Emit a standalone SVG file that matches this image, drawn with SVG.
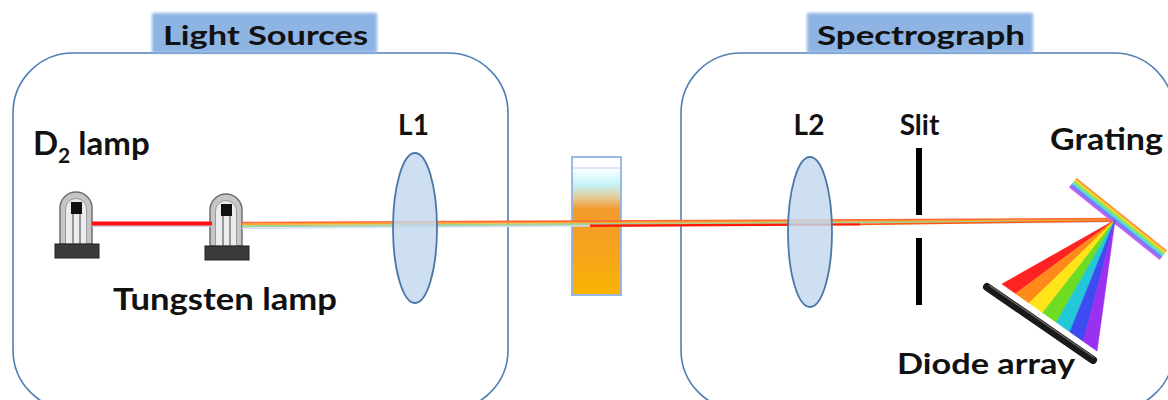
<svg xmlns="http://www.w3.org/2000/svg" xmlns:xlink="http://www.w3.org/1999/xlink" width="1168" height="400" viewBox="0 0 1168 400">
  <style>
    .frame { fill: none; stroke: #4f7fb3; stroke-width: 1.6; }
    .title-bg { fill: #8db4e3; filter: url(#soft); }
    .label { font-family: Lato, "Open Sans", "Liberation Sans", sans-serif; font-weight: bold; fill: #111; font-size: 27px; }
    .optic { font-size: 28px; }
    .lens { fill: #c3d8ee; fill-opacity: 0.82; stroke: #4a78a8; stroke-width: 1.8; }
    .slit { stroke: #000; stroke-width: 6; }
  </style>
  <defs>
    <filter id="soft" x="-10%" y="-30%" width="120%" height="160%">
      <feGaussianBlur stdDeviation="1.6"/>
    </filter>
    <linearGradient id="liquid" x1="0" y1="0" x2="0" y2="1">
      <stop offset="0" stop-color="#ffffff"/>
      <stop offset="0.08" stop-color="#ffffff"/>
      <stop offset="0.2" stop-color="#c4f4f8"/>
      <stop offset="0.3" stop-color="#e8c890"/>
      <stop offset="0.38" stop-color="#f39a2c"/>
      <stop offset="0.7" stop-color="#f6a41c"/>
      <stop offset="1" stop-color="#f9b300"/>
    </linearGradient>
    <linearGradient id="rainbowBand" x1="0" y1="0" x2="0" y2="1">
      <stop offset="0" stop-color="#ff6a2a"/>
      <stop offset="0.18" stop-color="#ffd52a"/>
      <stop offset="0.36" stop-color="#8ee65a"/>
      <stop offset="0.54" stop-color="#5ad8e8"/>
      <stop offset="0.72" stop-color="#6a7af5"/>
      <stop offset="1" stop-color="#e060f0"/>
    </linearGradient>
    <g id="lamp">
      <path d="M60,244 V208 A16,16 0 0 1 92,208 V244 Z" fill="#c6c6c6" stroke="#6f6f6f" stroke-width="1.5"/>
      <path d="M65.5,244 V209 A10.5,10.5 0 0 1 86.5,209 V244 Z" fill="#ececec" stroke="#9a9a9a" stroke-width="1"/>
      <line x1="73" y1="212" x2="73" y2="244" stroke="#7a7a7a" stroke-width="1.5"/>
      <line x1="80" y1="212" x2="80" y2="244" stroke="#7a7a7a" stroke-width="1.5"/>
      <rect x="71" y="202" width="11" height="12" fill="#111"/>
      <rect x="55" y="244" width="44" height="14" fill="#3b3b3b" stroke="#1f1f1f" stroke-width="1"/>
    </g>
  </defs>

  <rect width="1168" height="400" fill="#ffffff"/>

  <!-- enclosures -->
  <g id="light-sources">
    <rect class="frame" x="13" y="53" width="495" height="357" rx="60" ry="60"/>
    <rect class="title-bg" x="152" y="13" width="225" height="40"/>
    <text class="label" x="163" y="45" textLength="205" lengthAdjust="spacingAndGlyphs">Light Sources</text>
  </g>
  <g id="spectrograph">
    <rect class="frame" x="681" y="53" width="493" height="357" rx="60" ry="60"/>
    <rect class="title-bg" x="807" y="13" width="226" height="40"/>
    <text class="label" x="817" y="45" textLength="208" lengthAdjust="spacingAndGlyphs">Spectrograph</text>
  </g>

  <!-- lamps -->
  <g id="d2-lamp">
    <use xlink:href="#lamp"/>
    <text class="label" x="33" y="155" style="font-size:33px">D<tspan style="font-size:21px" dy="8">2</tspan><tspan dy="-8"> lamp</tspan></text>
  </g>
  <g id="tungsten-lamp">
    <use xlink:href="#lamp" transform="translate(150,2)"/>
    <text class="label" x="113" y="310" style="font-size:30px" textLength="224" lengthAdjust="spacingAndGlyphs">Tungsten lamp</text>
  </g>

  <!-- sample cuvette -->
  <g id="cuvette">
    <rect x="572" y="157" width="49" height="138" fill="url(#liquid)" stroke="#8fb3e6" stroke-width="1.8"/>
    <line x1="573" y1="168" x2="620" y2="168" stroke="#b7cdee" stroke-width="1.2"/>
  </g>

  <!-- light path -->
  <g id="connectors" fill="none" stroke-linecap="butt">
    <line x1="92" y1="226.2" x2="212" y2="226.2" stroke="#c7c9f0" stroke-width="1.8"/>
    <line x1="92" y1="223.5" x2="212" y2="223.5" stroke="#ff1010" stroke-width="3.8"/>
    <line x1="242" y1="228.3" x2="1114" y2="222" stroke="#d2e3f5" stroke-width="1.6"/>
    <line x1="242" y1="226.3" x2="1114" y2="220.6" stroke="#a6d19c" stroke-width="2.2"/>
    <line x1="242" y1="224.2" x2="1114" y2="219.5" stroke="#ffa41f" stroke-width="1.7"/>
    <line x1="242" y1="222.6" x2="1114" y2="218.6" stroke="#ff6a3a" stroke-width="1.6"/>
    <line x1="590" y1="225.8" x2="860" y2="224.4" stroke="#ff1a00" stroke-width="2.4"/>
    <line x1="860" y1="224.4" x2="1114" y2="221" stroke="#ff5a10" stroke-width="1.6"/>
    <rect x="1112" y="216.5" width="5" height="5" fill="#2f62b8"/>
  </g>

  <!-- optics -->
  <g id="lens-l1">
    <ellipse class="lens" cx="415" cy="228" rx="22" ry="75"/>
    <text class="label optic" x="413.5" y="135" text-anchor="middle">L1</text>
  </g>
  <g id="lens-l2">
    <ellipse class="lens" cx="810" cy="232" rx="22" ry="75"/>
    <text class="label optic" x="809" y="135" text-anchor="middle">L2</text>
  </g>
  <g id="slit">
    <line class="slit" x1="919" y1="148" x2="919" y2="215"/>
    <line class="slit" x1="919" y1="238" x2="919" y2="305"/>
    <text class="label optic" x="919.5" y="135" text-anchor="middle">Slit</text>
  </g>
  <g id="grating">
    <rect x="-58" y="-6" width="116" height="12" fill="url(#rainbowBand)" transform="translate(1118,219) rotate(38.7)"/>
    <text class="label" x="1050" y="150" style="font-size:31px" textLength="113" lengthAdjust="spacingAndGlyphs">Grating</text>
  </g>
  <g id="diode-array">
    <g stroke-width="0.6" stroke-linejoin="round">
      <polygon points="1115,220 1002,284 1015.6,293.6" fill="#ff2222" stroke="#ff2222"/>
      <polygon points="1115,220 1015.6,293.6 1029.1,303.1" fill="#ff8a1a" stroke="#ff8a1a"/>
      <polygon points="1115,220 1029.1,303.1 1042.7,312.7" fill="#ffe41a" stroke="#ffe41a"/>
      <polygon points="1115,220 1042.7,312.7 1056.3,322.3" fill="#6edc22" stroke="#6edc22"/>
      <polygon points="1115,220 1056.3,322.3 1069.9,331.9" fill="#22c8d8" stroke="#22c8d8"/>
      <polygon points="1115,220 1069.9,331.9 1083.4,341.4" fill="#3c4cf0" stroke="#3c4cf0"/>
      <polygon points="1115,220 1083.4,341.4 1097,351" fill="#9a30f0" stroke="#9a30f0"/>
    </g>
    <line x1="987" y1="287" x2="1093" y2="360" stroke="#1a1a1a" stroke-width="8" stroke-linecap="round"/>
    <line x1="989" y1="285.2" x2="1094" y2="357.6" stroke="#6a6a6a" stroke-width="1.2"/>
    <text class="label" x="897" y="374" style="font-size:29px" textLength="178" lengthAdjust="spacingAndGlyphs">Diode array</text>
  </g>
</svg>
